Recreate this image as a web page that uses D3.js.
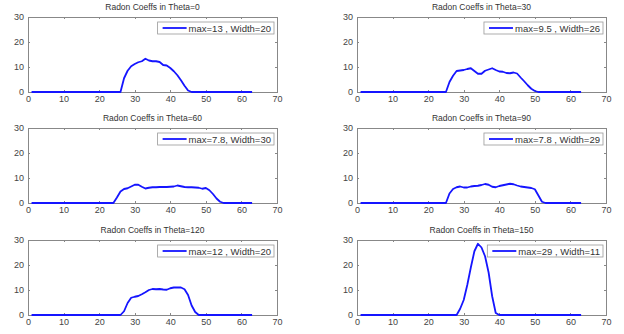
<!DOCTYPE html>
<html>
<head>
<meta charset="utf-8">
<script src="https://cdn.jsdelivr.net/npm/d3@7"></script>
<style>
  body { margin: 0; background: #fff; }
  svg { display: block; font-family: "Liberation Sans", Arial, sans-serif; }
  .axis path, .axis line { stroke: #888; shape-rendering: crispEdges; }
  .axis text { fill: #444; font-size: 9px; }
</style>
</head>
<body>
<div id="chart"></div>
<script>
// sample index (x values) shared by all six projections
const samples = d3.range(1, 64);

// Radon coefficients, one array per angle
const theta0 = [
  0,0,0,0,0,0,0,0,0,0, 0,0,0,0,0,0,0,0,0,0, 0,0,0,0,0,0,5.5,8.5,10.3,11.2,
  11.9,12.3,13.3,12.6,12.3,12.3,12.0,10.8,10.6,9.6, 8.3,6.7,4.7,2.5,0.6,0,0,0,0,0,
  0,0,0,0,0,0,0,0,0,0, 0,0,0
];
const theta30 = [
  0,0,0,0,0,0,0,0,0,0, 0,0,0,0,0,0,0,0,0,0, 0,0,0,0,0,4.0,6.5,8.4,8.6,8.8,
  9.2,9.5,8.4,7.3,7.3,8.5,9.0,9.5,8.8,8.2, 8.1,7.6,7.5,7.8,7.4,5.8,4.3,2.7,1.3,0.4,
  0,0,0,0,0,0,0,0,0,0, 0,0,0
];
const theta60 = [
  0,0,0,0,0,0,0,0,0,0, 0,0,0,0,0,0,0,0,0,0, 0,0,0,0,2.2,4.6,5.6,5.9,6.6,7.3,
  7.3,6.5,5.8,6.1,6.3,6.3,6.4,6.4,6.4,6.5, 6.6,7.0,6.7,6.4,6.3,6.3,6.2,6.1,5.7,6.0,
  5.1,3.6,1.8,0.5,0,0,0,0,0,0, 0,0,0
];
const theta90 = [
  0,0,0,0,0,0,0,0,0,0, 0,0,0,0,0,0,0,0,0,0, 0,0,0,0,0,3.8,5.6,6.3,6.6,6.2,
  6.2,6.6,6.8,6.9,7.2,7.6,7.3,6.5,6.3,6.8, 7.1,7.4,7.7,7.5,7.0,6.6,6.4,6.2,6.0,5.5,
  3.0,0.5,0,0,0,0,0,0,0,0, 0,0,0
];
const theta120 = [
  0,0,0,0,0,0,0,0,0,0, 0,0,0,0,0,0,0,0,0,0, 0,0,0,0,0,0,1.5,4.8,6.9,7.3,
  7.6,8.3,9.1,10.0,10.4,10.3,10.4,10.2,10.1,10.7, 11.0,11.0,11.0,10.3,8.0,3.8,1.2,0,0,0,
  0,0,0,0,0,0,0,0,0,0, 0,0,0
];
const theta150 = [
  0,0,0,0,0,0,0,0,0,0, 0,0,0,0,0,0,0,0,0,0, 0,0,0,0,0,0,0,0,2.5,6.0,
  12.0,19.0,25.5,28.5,27.0,23.5,17.0,7.5,0.8,0, 0,0,0,0,0,0,0,0,0,0,
  0,0,0,0,0,0,0,0,0,0, 0,0,0
];

const titles = ["Radon Coeffs in Theta=0", "Radon Coeffs in Theta=30", "Radon Coeffs in Theta=60",
                "Radon Coeffs in Theta=90", "Radon Coeffs in Theta=120", "Radon Coeffs in Theta=150"];
const legends = ["max=13 , Width=20", "max=9.5 , Width=26", "max=7.8, Width=30",
                 "max=7.8 , Width=29", "max=12 , Width=20", "max=29 , Width=11"];
const series = [theta0, theta30, theta60, theta90, theta120, theta150];
const xTicks = [0, 10, 20, 30, 40, 50, 60, 70];
const yTicks = [0, 10, 20, 30];

const W = 624, H = 334;
const colX = [28, 357];
const rowY = [17, 128, 240];
const pw = 249, ph = 75;

const svg = d3.select('#chart').append('svg')
    .attr('width', W)
    .attr('height', H);

const x = d3.scaleLinear().domain([0, 70]).range([0, pw]);
const y = d3.scaleLinear().domain([0, 30]).range([ph, 0]);

const line = d3.line()
    .x((d, i) => x(samples[i]))
    .y(d => y(d));

series.forEach((values, k) => {
    const g = svg.append('g')
        .attr('transform', `translate(${colX[k % 2]},${rowY[Math.floor(k / 2)]})`);

    // box background
    g.append('rect')
        .attr('width', pw).attr('height', ph)
        .attr('fill', '#fff');

    // bottom / left with labels, top / right ticks only (MATLAB style, ticks inward)
    g.append('g').attr('class', 'axis')
        .attr('transform', `translate(0,${ph})`)
        .call(d3.axisBottom(x).tickValues(xTicks).tickSizeInner(-2).tickSizeOuter(0).tickPadding(4));
    g.append('g').attr('class', 'axis')
        .call(d3.axisLeft(y).tickValues(yTicks).tickSizeInner(-2).tickSizeOuter(0).tickPadding(4));
    g.append('g').attr('class', 'axis')
        .call(d3.axisTop(x).tickValues(xTicks).tickSizeInner(-2).tickSizeOuter(0).tickFormat(''));
    g.append('g').attr('class', 'axis')
        .attr('transform', `translate(${pw},0)`)
        .call(d3.axisRight(y).tickValues(yTicks).tickSizeInner(-2).tickSizeOuter(0).tickFormat(''));

    g.append('path')
        .datum(values)
        .attr('fill', 'none')
        .attr('stroke', '#1515ff')
        .attr('stroke-width', 1.8)
        .attr('stroke-linejoin', 'round')
        .attr('d', line);

    g.append('text')
        .attr('x', pw / 2)
        .attr('y', -7)
        .attr('text-anchor', 'middle')
        .attr('fill', '#333')
        .attr('font-size', '8.5px')
        .text(titles[k]);

    // legend in the upper right corner
    const lg = g.append('g');
    const box = lg.append('rect')
        .attr('fill', '#fff')
        .attr('stroke', '#999')
        .attr('stroke-width', 0.8);
    const label = lg.append('text')
        .attr('font-size', '9.5px')
        .attr('fill', '#333')
        .attr('y', 9.5)
        .attr('x', 31)
        .text(legends[k]);
    lg.append('line')
        .attr('x1', 5).attr('x2', 29)
        .attr('y1', 6).attr('y2', 6)
        .attr('stroke', '#1515ff')
        .attr('stroke-width', 1.8);
    const bw = 31 + label.node().getComputedTextLength() + 3;
    box.attr('width', bw).attr('height', 12);
    lg.attr('transform', `translate(${pw - 3 - bw},5)`);
});
</script>
</body>
</html>
